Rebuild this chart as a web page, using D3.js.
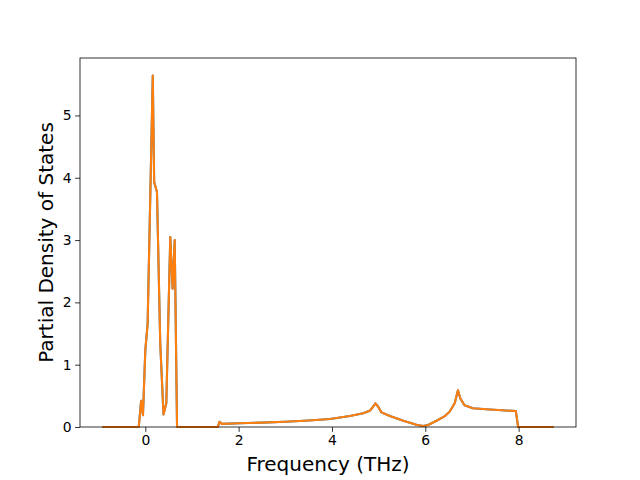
<!DOCTYPE html>
<html><head><meta charset="utf-8">
<script src="https://cdn.jsdelivr.net/npm/d3@7"></script>
<style>body{margin:0;background:#fff}text{font-family:"DejaVu Sans",sans-serif}</style>
</head><body>
<script>
const freq = [-0.92,-0.14,-0.09,-0.05,0.0,0.05,0.16,0.19,0.25,0.32,0.39,0.45,0.535,0.585,0.63,0.68,1.555,1.59,1.64,2.03,2.5,3.0,3.5,3.96,4.385,4.67,4.81,4.88,4.93,4.99,5.06,5.24,5.53,5.81,5.95,6.06,6.24,6.42,6.52,6.63,6.70,6.75,6.84,7.02,7.38,7.94,7.99,8.75];
const pdosBlue = [0,0,0.42,0.19,1.23,1.66,5.64,3.93,3.77,1.34,0.2,0.38,3.05,2.22,3.0,0,0,0.085,0.05,0.06,0.07,0.085,0.105,0.128,0.176,0.22,0.26,0.325,0.38,0.325,0.235,0.176,0.10,0.037,0.016,0.032,0.10,0.176,0.245,0.38,0.59,0.46,0.35,0.30,0.28,0.256,0,0];
const pdosOrange = [0,0,0.42,0.19,1.23,1.66,5.64,3.93,3.77,1.34,0.2,0.38,3.05,2.22,3.0,0,0,0.085,0.05,0.06,0.07,0.085,0.105,0.128,0.176,0.22,0.26,0.325,0.38,0.325,0.235,0.176,0.10,0.037,0.016,0.032,0.10,0.176,0.245,0.38,0.59,0.46,0.35,0.30,0.28,0.256,0,0];
const xTicks = [0,2,4,6,8];
const yTicks = [0,1,2,3,4,5];

const W=640,H=480, L=80,R=576,T=58,B=427;
const svg=d3.select("body").append("svg").attr("width",W).attr("height",H);
const x=d3.scaleLinear().domain([-1.3995,9.2295]).range([L,R]);
const y=d3.scaleLinear().domain([0,5.922]).range([B,T]);

const line=(vals)=>d3.line().x((d,i)=>x(freq[i])).y(d=>y(d))(vals);
svg.append("path").attr("d",line(pdosBlue)).attr("fill","none").attr("stroke","#1f77b4").attr("stroke-width",2.08).attr("stroke-linejoin","round");
svg.append("path").attr("d",line(pdosOrange)).attr("fill","none").attr("stroke","#ff7f0e").attr("stroke-width",2.08).attr("stroke-linejoin","round");

const xa=svg.append("g").attr("transform",`translate(0,${B})`).call(d3.axisBottom(x).tickValues(xTicks).tickSize(4.9).tickPadding(3.5).tickFormat(d3.format("d")));
const ya=svg.append("g").attr("transform",`translate(${L},0)`).call(d3.axisLeft(y).tickValues(yTicks).tickSize(4.9).tickPadding(3.5).tickFormat(d3.format("d")));
[xa,ya].forEach(a=>{a.select(".domain").remove();a.selectAll("text").attr("font-size","13.9px").attr("font-family","DejaVu Sans").attr("fill","#000");a.selectAll("line").attr("stroke","#000").attr("stroke-width",0.8);});
svg.append("rect").attr("x",L).attr("y",T).attr("width",R-L).attr("height",B-T).attr("fill","none").attr("stroke","#000").attr("stroke-width",0.8);

svg.append("text").attr("x",(L+R)/2).attr("y",471).attr("text-anchor","middle").attr("font-size","20px").text("Frequency (THz)");
svg.append("text").attr("transform",`translate(53,${(T+B)/2}) rotate(-90)`).attr("text-anchor","middle").attr("font-size","20px").text("Partial Density of States");
</script>
</body></html>
